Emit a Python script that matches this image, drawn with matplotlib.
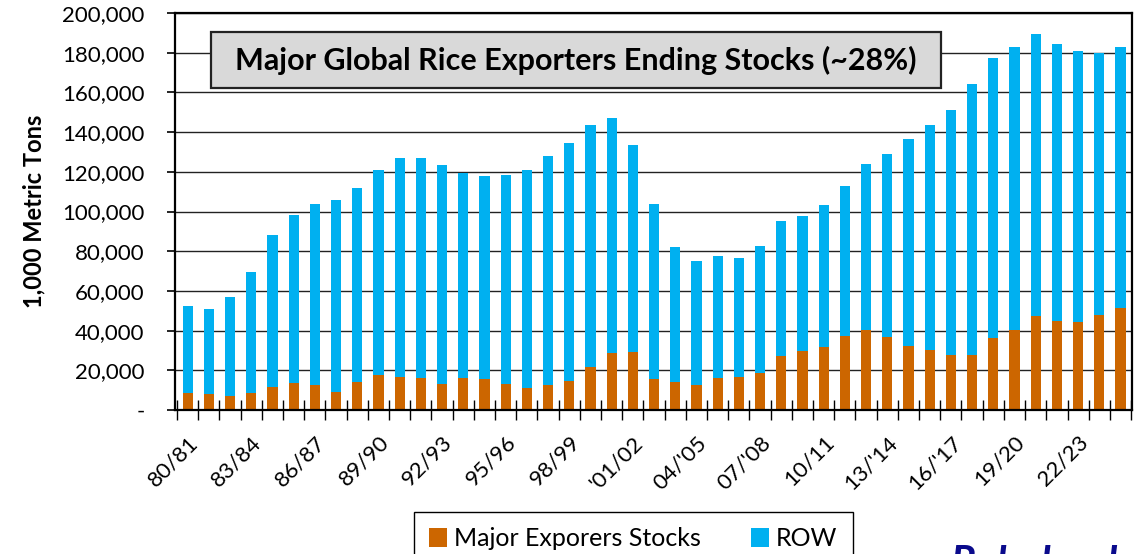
import matplotlib
matplotlib.use("Agg")
import matplotlib.pyplot as plt
from matplotlib.patches import Patch, Rectangle
from matplotlib.ticker import FixedLocator, FuncFormatter
import numpy as np

plt.rcParams["font.family"] = ["Lato", "DejaVu Sans"]

# Marketing years 1980/81 .. 2024/25
seasons = [f"{(80 + i) % 100:02d}/{(81 + i) % 100:02d}" for i in range(45)]

# Ending stocks, 1,000 metric tons
major_exporters = [8400, 8300, 6900, 8400, 11600, 13400, 12600, 9100, 14100, 17500,
                   16500, 16300, 13100, 16300, 15600, 13100, 11200, 12400, 14400, 21500,
                   28900, 29400, 15600, 14100, 12800, 16300, 16600, 18500, 27200, 29800,
                   31900, 37100, 40100, 36800, 32400, 30100, 27700, 27700, 36300, 40500,
                   47200, 44700, 44300, 48000, 51400]
row = [44100, 42400, 50200, 61300, 76400, 84700, 91000, 96500, 97700, 103400,
       110500, 110700, 110300, 103100, 102400, 105300, 109500, 115600, 120100, 122100,
       118100, 104100, 88000, 68000, 62300, 61400, 59800, 64000, 68000, 67800,
       71200, 75700, 84000, 92000, 104000, 113300, 123400, 136400, 141000, 142500,
       142100, 139700, 136600, 132000, 131600]

tick_labels = ["80/81", "83/84", "86/87", "89/90", "92/93", "95/96", "98/99", "'01/02",
               "04/'05", "07/'08", "10/11", "13/'14", "16/'17", "19/20", "22/23"]

orange = "#CC6600"
blue = "#00B0F0"

fig = plt.figure(figsize=(11.42, 5.54), dpi=100)
ax = fig.add_axes([0.1532, 0.2599, 0.9912 - 0.1532, 0.9765 - 0.2599])

x = np.arange(len(seasons))
w = 0.48
ax.bar(x, major_exporters, width=w, color=orange, zorder=2, label="Major Exporers Stocks")
ax.bar(x, row, width=w, bottom=major_exporters, color=blue, zorder=2, label="ROW")

ax.set_xlim(-0.6, len(seasons) - 0.46)
ax.set_ylim(0, 200000)

# y axis
ax.set_yticks(np.arange(0, 200001, 20000))
ax.yaxis.set_major_formatter(FuncFormatter(lambda v, p: "-" if v == 0 else f"{int(v):,}"))
ax.tick_params(axis="y", direction="out", length=6, width=1.2, labelsize=16, pad=16)
ax.grid(axis="y", color="#222222", linewidth=1.0, zorder=0)
ax.set_axisbelow(True)
ax.set_ylabel("1,000 Metric Tons", fontsize=17, fontweight="bold", labelpad=12)

# x axis: labels every third season, tick marks between every bar
ax.xaxis.set_major_locator(FixedLocator(x[::3]))
ax.set_xticklabels(tick_labels, rotation=45, ha="right", va="top",
                   rotation_mode="anchor", fontsize=16)
ax.xaxis.set_minor_locator(FixedLocator(np.arange(-0.5, len(seasons), 1.0)))
ax.tick_params(axis="x", which="major", length=0, pad=16)
ax.tick_params(axis="x", which="minor", direction="inout", length=14, width=1.0)

for s in ax.spines.values():
    s.set_linewidth(1.6)
    s.set_color("black")
    s.set_zorder(3)

# title box
ax.add_patch(Rectangle((0.0376, 0.811), 0.800 - 0.0376, 0.952 - 0.811,
                       transform=ax.transAxes, facecolor="#D9D9D9",
                       edgecolor="#222222", linewidth=1.6, zorder=4))
ax.text(0.419, 0.8816, "Major Global Rice Exporters Ending Stocks (~28%)",
        transform=ax.transAxes, ha="center", va="center", fontsize=22,
        fontweight="bold", zorder=5)

# legend along the bottom
handles = [Patch(facecolor=orange), Patch(facecolor=blue)]
leg = fig.legend(handles, ["Major Exporers Stocks", "ROW"], loc="upper center",
                 bbox_to_anchor=(0.5547, 0.0758), ncol=2, fontsize=18,
                 frameon=True, fancybox=False, framealpha=1, edgecolor="black",
                 handlelength=0.7, handleheight=0.8, handletextpad=0.3,
                 columnspacing=2.0, borderpad=0.6, borderaxespad=0)
leg.get_frame().set_linewidth(1.0)

fig.text(0.832, 0.016, "Rabobank", fontsize=30, fontweight="bold", fontstyle="italic",
         color="#0A0A8C", ha="left", va="top")

fig.savefig("out.png", dpi=100)
